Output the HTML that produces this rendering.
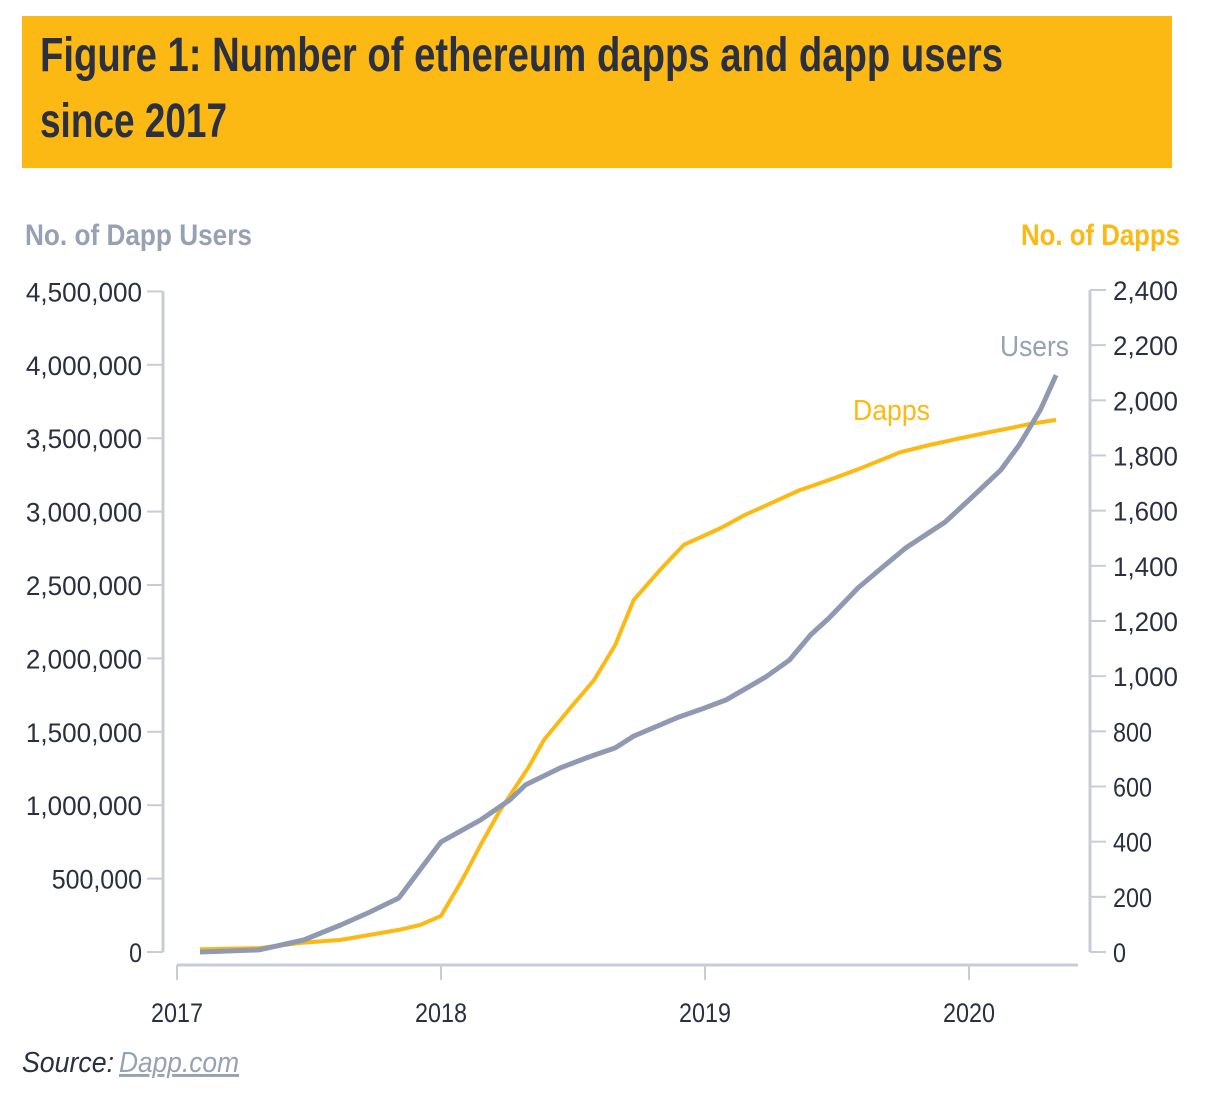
<!DOCTYPE html>
<html><head><meta charset="utf-8"><style>
html,body{margin:0;padding:0;background:#fff;}
svg{display:block;font-family:"Liberation Sans",sans-serif;}
</style></head><body>
<svg id="chart" width="1216" height="1114" viewBox="0 0 1216 1114">
<rect x="22" y="16" width="1150" height="152" fill="#FDB913"/>
<text x="40" y="71" font-size="48" font-weight="bold" fill="#2a3040" textLength="963" lengthAdjust="spacingAndGlyphs">Figure 1: Number of ethereum dapps and dapp users</text>
<text x="40" y="137" font-size="48" font-weight="bold" fill="#2a3040" textLength="187" lengthAdjust="spacingAndGlyphs">since 2017</text>
<text x="25" y="245" font-size="30" font-weight="bold" fill="#97a1b5" textLength="227" lengthAdjust="spacingAndGlyphs">No. of Dapp Users</text>
<text x="1180" y="245" font-size="30" font-weight="bold" fill="#FDB913" text-anchor="end" textLength="159" lengthAdjust="spacingAndGlyphs">No. of Dapps</text>
<g id="axes"></g>
<g id="series"></g>
<text x="22" y="1072" font-size="29" font-style="italic" fill="#2a3040" textLength="92" lengthAdjust="spacingAndGlyphs">Source:</text>
<text x="119" y="1072" font-size="29" font-style="italic" fill="#97a1b5" text-decoration="underline" textLength="120" lengthAdjust="spacingAndGlyphs">Dapp.com</text>
</svg>
<script>
const leftTicks=[0,500000,1000000,1500000,2000000,2500000,3000000,3500000,4000000,4500000];
const leftTickLabels=["0","500,000","1,000,000","1,500,000","2,000,000","2,500,000","3,000,000","3,500,000","4,000,000","4,500,000"];
const rightTicks=[0,200,400,600,800,1000,1200,1400,1600,1800,2000,2200,2400];
const rightTickLabels=["0","200","400","600","800","1,000","1,200","1,400","1,600","1,800","2,000","2,200","2,400"];
const xTicks=[2017,2018,2019,2020];
const xTickLabels=["2017","2018","2019","2020"];
const userDates=[2017.087,2017.31,2017.48,2017.62,2017.73,2017.84,2018.0,2018.15,2018.26,2018.32,2018.45,2018.56,2018.66,2018.73,2018.9,2018.98,2019.08,2019.23,2019.32,2019.40,2019.47,2019.58,2019.66,2019.76,2019.91,2020.0,2020.12,2020.19,2020.27,2020.33];
const userValues=[0,14000,82000,184000,272000,368000,750000,900000,1035000,1138000,1253000,1328000,1390000,1471000,1600000,1650000,1717000,1873000,1989000,2160000,2275000,2480000,2602000,2752000,2929000,3079000,3283000,3454000,3692000,3930000];
const dappDates=[2017.087,2017.31,2017.47,2017.62,2017.73,2017.84,2017.92,2018.0,2018.08,2018.15,2018.22,2018.33,2018.39,2018.49,2018.58,2018.66,2018.73,2018.83,2018.92,2019.06,2019.15,2019.25,2019.36,2019.47,2019.59,2019.74,2019.85,2019.97,2020.08,2020.16,2020.23,2020.33];
const dappValues=[10,14,33,44,62,80,98,131,261,388,508,667,769,885,986,1113,1276,1385,1476,1537,1584,1627,1675,1711,1754,1812,1838,1863,1885,1900,1914,1929];
const NS="http://www.w3.org/2000/svg";
const x=t=>177+(t-2017)*264;
const yL=v=>952-v/500000*73.4;
const yR=v=>952-v/200*55.17;
const axes=document.getElementById('axes'),series=document.getElementById('series');
function mk(tag,attrs,parent,txt){const e=document.createElementNS(NS,tag);for(const k in attrs)e.setAttribute(k,attrs[k]);if(txt!==undefined)e.textContent=txt;parent.appendChild(e);return e;}
const ax='#c8ccd6';
let e;
e=mk('line',{x1:163,y1:yL(4500000),x2:163,y2:yL(0),stroke:ax,'stroke-width':3},axes);


e=mk('line',{x1:1090,y1:yR(2400),x2:1090,y2:yR(0),stroke:ax,'stroke-width':3},axes);


e=mk('line',{x1:177,y1:965,x2:1078,y2:965,stroke:ax,'stroke-width':3},axes);


leftTicks.forEach((v,i)=>{
 let t=mk('line',{x1:147,y1:yL(v),x2:163,y2:yL(v),stroke:ax,'stroke-width':2},axes);
 
 
 let l=mk('text',{x:142,y:yL(v)+10,'font-size':27,fill:'#2a3040','text-anchor':'end',textLength:leftTickLabels[i].length*12.9,lengthAdjust:'spacingAndGlyphs'},axes,leftTickLabels[i]);
 
 
});
rightTicks.forEach((v,i)=>{
 let t=mk('line',{x1:1090,y1:yR(v),x2:1106,y2:yR(v),stroke:ax,'stroke-width':2},axes);
 
 
 let l=mk('text',{x:1113,y:yR(v)+10,'font-size':27,fill:'#2a3040',textLength:rightTickLabels[i].length*13,lengthAdjust:'spacingAndGlyphs'},axes,rightTickLabels[i]);
 
 
});
xTicks.forEach((v,i)=>{
 let t=mk('line',{x1:x(v),y1:965,x2:x(v),y2:980,stroke:ax,'stroke-width':2},axes);
 
 
 let l=mk('text',{x:x(v),y:1022,'font-size':27,fill:'#2a3040','text-anchor':'middle',textLength:52,lengthAdjust:'spacingAndGlyphs'},axes,xTickLabels[i]);
 
 
});
let dp=dappDates.map((t,i)=>x(t).toFixed(1)+','+yR(dappValues[i]).toFixed(1)).join(' ');
e=mk('polyline',{points:dp,fill:'none',stroke:'#FDB913','stroke-width':4,'stroke-linejoin':'round'},series);


let up=userDates.map((t,i)=>x(t).toFixed(1)+','+yL(userValues[i]).toFixed(1)).join(' ');
e=mk('polyline',{points:up,fill:'none',stroke:'#8f9ab2','stroke-width':5,'stroke-linejoin':'round'},series);


e=mk('text',{x:853,y:420,'font-size':29,fill:'#FDB913',textLength:77,lengthAdjust:'spacingAndGlyphs'},series,'Dapps');


e=mk('text',{x:1000,y:356,'font-size':29,fill:'#97a1b5',textLength:69,lengthAdjust:'spacingAndGlyphs'},series,'Users');


</script>
</body></html>
